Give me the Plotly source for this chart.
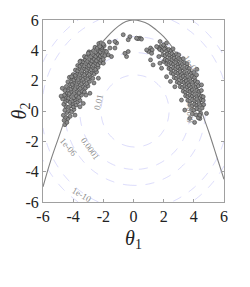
import numpy as np
import plotly.graph_objects as go

# ---------------- data ----------------
curve_x = [-6, -5.5, -5, -4.5, -4, -3.5, -3, -2.5, -2, -1.5, -1, -0.5, 0,
           0.5, 1, 1.5, 2, 2.5, 3, 3.5, 4, 4.5, 5, 5.5, 6]
curve_y = [-5.0, -3.3, -1.85, -0.4, 1.1, 2.65, 3.45, 4.05, 4.6, 5.15, 5.6, 5.9, 6.0,
           5.92, 5.72, 5.35, 4.9, 4.3, 3.5, 2.6, 1.5, 0.0, -1.4, -2.95, -4.5]

left_pts = [
    (-4.55, -0.9), (-4.42, -0.75), (-4.6, -0.62),
    (-4.35, -0.5), (-4.52, -0.4), (-4.2, -0.35), (-4.65, -0.28),
    (-4.4, -0.1), (-4.25, 0.0), (-4.55, 0.05), (-4.1, -0.05), (-3.95, 0.1),
    (-4.48, 0.3), (-4.3, 0.25), (-4.15, 0.35), (-3.98, 0.28), (-3.8, 0.4), (-4.62, 0.45), (-4.05, 0.5),
    (-4.5, 0.62), (-4.35, 0.7), (-4.2, 0.58), (-4.02, 0.66), (-3.88, 0.75), (-3.7, 0.6), (-3.55, 0.7), (-4.7, 0.8),
    (-4.45, 0.92), (-4.3, 0.85), (-4.12, 0.95), (-3.95, 0.88), (-3.8, 1.0), (-3.62, 0.9), (-3.45, 1.05), (-4.58, 1.05),
    (-4.4, 1.2), (-4.25, 1.15), (-4.1, 1.28), (-3.92, 1.18), (-3.76, 1.3), (-3.6, 1.2), (-3.42, 1.32), (-3.25, 1.25), (-4.55, 1.35),
    (-4.3, 1.5), (-4.15, 1.45), (-4.0, 1.58), (-3.85, 1.48), (-3.7, 1.6), (-3.52, 1.5), (-3.35, 1.62), (-3.18, 1.52), (-3.02, 1.65), (-4.45, 1.62),
    (-4.2, 1.8), (-4.05, 1.75), (-3.9, 1.88), (-3.75, 1.78), (-3.6, 1.9), (-3.44, 1.8), (-3.28, 1.92), (-3.1, 1.82), (-2.92, 1.95), (-4.35, 1.92),
    (-4.1, 2.1), (-3.95, 2.05), (-3.8, 2.18), (-3.65, 2.08), (-3.5, 2.2), (-3.34, 2.1), (-3.18, 2.22), (-3.02, 2.12), (-2.85, 2.25), (-2.7, 2.15), (-4.25, 2.22),
    (-4.0, 2.4), (-3.85, 2.35), (-3.7, 2.48), (-3.55, 2.38), (-3.4, 2.5), (-3.24, 2.4), (-3.08, 2.52), (-2.92, 2.42), (-2.76, 2.55), (-2.6, 2.45), (-2.45, 2.58),
    (-3.85, 2.7), (-3.7, 2.65), (-3.55, 2.78), (-3.4, 2.68), (-3.25, 2.8), (-3.1, 2.7), (-2.95, 2.82), (-2.8, 2.72), (-2.65, 2.85), (-2.5, 2.75), (-2.35, 2.88),
    (-3.7, 3.0), (-3.55, 2.95), (-3.4, 3.08), (-3.25, 2.98), (-3.1, 3.1), (-2.95, 3.0), (-2.8, 3.12), (-2.65, 3.02), (-2.5, 3.15), (-2.35, 3.05), (-2.2, 3.18),
    (-3.5, 3.3), (-3.35, 3.25), (-3.2, 3.38), (-3.05, 3.28), (-2.9, 3.4), (-2.75, 3.3), (-2.6, 3.42), (-2.45, 3.32), (-2.3, 3.45), (-2.15, 3.35), (-2.0, 3.4),
    (-3.25, 3.6), (-3.1, 3.55), (-2.95, 3.68), (-2.8, 3.58), (-2.65, 3.7), (-2.5, 3.6), (-2.35, 3.72), (-2.2, 3.62), (-2.05, 3.7), (-1.9, 3.65),
    (-2.95, 3.9), (-2.8, 3.85), (-2.65, 3.98), (-2.5, 3.88), (-2.35, 4.0), (-2.2, 3.9), (-2.05, 4.02), (-1.9, 3.95),
    (-2.55, 4.2), (-2.4, 4.15), (-2.25, 4.28), (-2.1, 4.2), (-1.95, 4.3),
    (-2.3, 4.45), (-2.15, 4.5), (-2.0, 4.4),
    # scattered edge points
    (-4.1, 2.26), (-3.55, 3.26), (-3.0, 3.8), (-2.23, 4.25), (-1.67, 3.7), (-2.0, 3.15),
    (-2.33, 2.16), (-2.89, 1.17), (-3.33, 0.5), (-3.55, 0.28), (-3.88, -0.27), (-4.8, 0.98),
    (-2.62, 1.85), (-3.15, 1.05), (-4.72, 1.5),
]

mid_pts = [
    (-0.68, 5.03), (-0.24, 4.9), (-0.35, 4.7), (0.43, 4.8), (0.53, 4.74), (0.3, 4.77),
    (-1.6, 4.55), (-1.56, 4.15), (-1.23, 4.15), (-1.12, 4.48), (-1.79, 3.92), (-1.46, 3.59),
    (-0.35, 3.92), (-0.46, 3.59), (0.2, 4.8), (-1.23, 4.58), (-0.57, 3.8),
    (1.13, 4.15), (1.24, 4.03), (1.0, 3.92), (1.79, 4.25), (1.67, 4.15), (2.0, 4.36), (2.12, 4.15),
    (1.13, 3.37), (1.68, 3.59), (2.0, 3.26), (1.53, 4.25), (1.2, 3.8), (0.87, 4.03), (1.3, 3.04),
    (1.75, 3.15), (2.19, 4.48), (1.76, 4.58),
]

right_pts = [
    (1.75, 4.05), (1.9, 3.98), (2.05, 4.08), (2.2, 3.95), (2.35, 4.05), (2.5, 3.98), (2.62, 4.1),
    (1.95, 3.7), (2.1, 3.65), (2.25, 3.75), (2.4, 3.68), (2.55, 3.78), (2.7, 3.66), (2.85, 3.76), (3.0, 3.7),
    (2.1, 3.4), (2.25, 3.35), (2.4, 3.45), (2.55, 3.38), (2.7, 3.48), (2.85, 3.36), (3.0, 3.46), (3.15, 3.38), (3.3, 3.45),
    (2.2, 3.1), (2.35, 3.05), (2.5, 3.15), (2.65, 3.08), (2.8, 3.18), (2.95, 3.06), (3.1, 3.16), (3.25, 3.08), (3.4, 3.18), (3.55, 3.1),
    (2.35, 2.8), (2.5, 2.75), (2.65, 2.85), (2.8, 2.78), (2.95, 2.88), (3.1, 2.76), (3.25, 2.86), (3.4, 2.78), (3.55, 2.88), (3.7, 2.8),
    (2.5, 2.5), (2.65, 2.45), (2.8, 2.55), (2.95, 2.48), (3.1, 2.58), (3.25, 2.46), (3.4, 2.56), (3.55, 2.48), (3.7, 2.58), (3.85, 2.5), (4.0, 2.55),
    (2.7, 2.2), (2.85, 2.15), (3.0, 2.25), (3.15, 2.18), (3.3, 2.28), (3.45, 2.16), (3.6, 2.26), (3.75, 2.18), (3.9, 2.28), (4.05, 2.2),
    (2.9, 1.9), (3.05, 1.85), (3.2, 1.95), (3.35, 1.88), (3.5, 1.98), (3.65, 1.86), (3.8, 1.96), (3.95, 1.88), (4.1, 1.98), (4.25, 1.9),
    (3.1, 1.6), (3.25, 1.55), (3.4, 1.65), (3.55, 1.58), (3.7, 1.68), (3.85, 1.56), (4.0, 1.66), (4.15, 1.58), (4.3, 1.65),
    (3.3, 1.3), (3.45, 1.25), (3.6, 1.35), (3.75, 1.28), (3.9, 1.38), (4.05, 1.26), (4.2, 1.36), (4.35, 1.28), (4.5, 1.35),
    (3.45, 1.0), (3.6, 0.95), (3.75, 1.05), (3.9, 0.98), (4.05, 1.08), (4.2, 0.96), (4.35, 1.06), (4.5, 0.98),
    (3.6, 0.7), (3.75, 0.65), (3.9, 0.75), (4.05, 0.68), (4.2, 0.78), (4.35, 0.66), (4.5, 0.74), (4.62, 0.7),
    (3.75, 0.4), (3.9, 0.35), (4.05, 0.45), (4.2, 0.38), (4.35, 0.46), (4.5, 0.36), (4.65, 0.42),
    (3.85, 0.1), (4.0, 0.05), (4.2, 0.15), (4.4, 0.08), (4.55, 0.2),
    (3.9, -0.2), (4.15, -0.25), (4.45, -0.15), (4.84, -0.16),
    (3.73, -0.49), (4.4, -0.5), (4.3, -0.45),
    # scattered edge points
    (4.4, -0.27), (3.4, 0.06), (3.18, 0.72), (2.74, 1.6), (2.19, 2.26), (1.86, 2.82),
    (4.62, 0.94), (4.51, 1.72), (4.18, 2.38), (4.2, 2.75), (2.45, 1.95), (4.05, -0.75),
]

# Gaussian density whose contours are drawn
dens_mean = (0.1, 0.0)
dens_sigma = (0.95, 1.0)
contour_levels = [-2, -4, -6, -10, -12]   # log10 of density

label_text = ["0.01", "0.0001", "1e-06", "1e-10", "1e-06", "0.0001"]
label_x = [-2.33, -2.84, -4.32, -3.44, 3.85, 3.73]
label_y = [0.61, -2.48, -2.37, -5.57, 3.04, 0.06]
label_ang = [-78, 55, 50, 30, 55, -90]

ticks = [-6, -4, -2, 0, 2, 4, 6]

# ---------------- figure ----------------
fig = go.Figure()

gx = np.linspace(-6, 6, 241)
gy = np.linspace(-6, 6, 241)
X, Y = np.meshgrid(gx, gy)
sx, sy = dens_sigma
mx, my = dens_mean
Z = np.log10(np.exp(-0.5 * ((X - mx) / sx) ** 2 - 0.5 * ((Y - my) / sy) ** 2) / (2 * np.pi * sx * sy))

for lv in contour_levels:
    fig.add_trace(go.Contour(
        x=gx, y=gy, z=Z, showscale=False, hoverinfo="skip",
        contours=dict(start=lv, end=lv, size=1, coloring="none", showlabels=False),
        line=dict(color="rgba(165,165,245,0.5)", width=0.8, dash="dash"),
    ))

allpts = left_pts + mid_pts + right_pts
fig.add_trace(go.Scatter(
    x=[p[0] for p in allpts], y=[p[1] for p in allpts], mode="markers",
    marker=dict(size=4.0, color="#8c8c8c", line=dict(color="#3a3a3a", width=0.6)),
    hoverinfo="skip",
))

fig.add_trace(go.Scatter(
    x=curve_x, y=curve_y, mode="lines", line=dict(color="#808080", width=1.1, shape="spline"),
    hoverinfo="skip",
))

for t, x, y, a in zip(label_text, label_x, label_y, label_ang):
    fig.add_annotation(x=x, y=y, text=t, showarrow=False, textangle=a,
                       font=dict(family="Liberation Serif", size=9, color="#8c8c8c"))

axis_common = dict(
    range=[-6, 6], tickvals=ticks, ticktext=[str(t) for t in ticks],
    showgrid=False, zeroline=False, showline=True, linecolor="#a0a0a0", linewidth=1,
    mirror="ticks", ticks="inside", ticklen=3, tickcolor="#a0a0a0", automargin=False,
    tickfont=dict(family="Liberation Serif", size=16, color="#222"),
)
fig.update_xaxes(**axis_common, title=dict(text="<i>θ</i><sub>1</sub>", standoff=6,
                 font=dict(family="Liberation Serif", size=20, color="#222")))
fig.update_yaxes(**axis_common, title=dict(text="<i>θ</i><sub>2</sub>", standoff=9,
                 font=dict(family="Liberation Serif", size=20, color="#222")))

# page body has an 8px margin, so the figure is sized to fit the 250x287 window
fig.update_layout(
    width=242, height=279, margin=dict(l=35, r=26, t=12, b=85),
    plot_bgcolor="white", paper_bgcolor="white", showlegend=False,
)

fig.write_html("out.html")
